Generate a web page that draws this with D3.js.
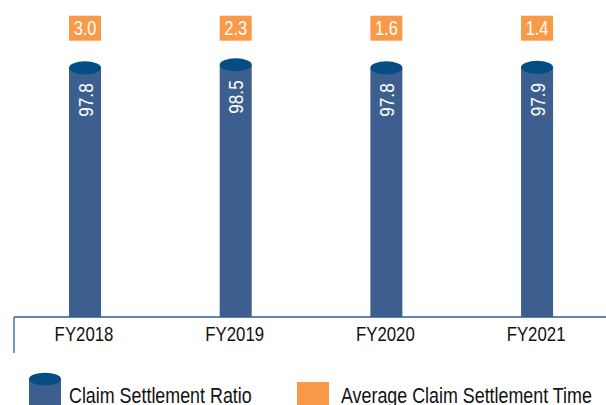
<!DOCTYPE html>
<html>
<head>
<meta charset="utf-8">
<script src="https://cdnjs.cloudflare.com/ajax/libs/d3/7.8.5/d3.min.js"></script>
<style>
  html, body { margin: 0; padding: 0; background: #fff; }
  svg { display: block; }
  text { font-family: "Liberation Sans", Arial, sans-serif; }
</style>
</head>
<body>
<svg id="chart" width="606" height="405"></svg>
<script>
const categories = ["FY2018", "FY2019", "FY2020", "FY2021"];
const ratioValues = [97.8, 98.5, 97.8, 97.9];
const timeValues = [3.0, 2.3, 1.6, 1.4];
const legendLabels = ["Claim Settlement Ratio", "Average Claim Settlement Time"];

const W = 606, H = 405;
const bodyColor = "#3C5F8F";
const topColor = "#054D82";
const orange = "#F99A48";
const axisColor = "#2E5D8C";
const narrow = 0.82; // emulate a condensed face

const svg = d3.select("#chart");

const x = d3.scalePoint().domain(categories).range([9.7, 612.4]).padding(0.5);
const y = d3.scaleLinear().domain([40, 100]).range([317, 58.3]);
const barW = 32, ry = 6.5;
const baseY = y(40);

const data = categories.map((c, i) => ({ cat: c, ratio: ratioValues[i], time: timeValues[i] }));

// bars (cylinders)
const g = svg.append("g");
g.selectAll("rect.body").data(data).enter().append("rect")
  .attr("class", "body")
  .attr("x", d => x(d.cat) - barW / 2)
  .attr("y", d => y(d.ratio))
  .attr("width", barW)
  .attr("height", d => baseY - y(d.ratio))
  .attr("fill", bodyColor);
g.selectAll("ellipse.top").data(data).enter().append("ellipse")
  .attr("class", "top")
  .attr("cx", d => x(d.cat))
  .attr("cy", d => y(d.ratio))
  .attr("rx", barW / 2)
  .attr("ry", ry)
  .attr("fill", topColor);

// rotated value labels
g.selectAll("text.val").data(data).enter().append("text")
  .attr("class", "val")
  .attr("transform", d => `translate(${x(d.cat)},${y(d.ratio) + 15.5}) rotate(-90) scale(${narrow},1)`)
  .attr("text-anchor", "end")
  .attr("dy", "0.36em")
  .attr("fill", "#fff")
  .attr("font-size", 21)
  .text(d => d.ratio.toFixed(1));

// orange time boxes
g.selectAll("rect.time").data(data).enter().append("rect")
  .attr("class", "time")
  .attr("x", d => x(d.cat) - barW / 2)
  .attr("y", 15.7)
  .attr("width", barW)
  .attr("height", 25)
  .attr("fill", orange);
g.selectAll("text.time").data(data).enter().append("text")
  .attr("class", "time")
  .attr("transform", d => `translate(${x(d.cat)},35) scale(${narrow},1)`)
  .attr("text-anchor", "middle")
  .attr("fill", "#fff")
  .attr("font-size", 20)
  .text(d => d.time.toFixed(1));

// axis line
svg.append("line").attr("x1", 14).attr("x2", W).attr("y1", baseY).attr("y2", baseY)
  .attr("stroke", axisColor).attr("stroke-width", 1.6);
svg.append("line").attr("x1", 14).attr("x2", 14).attr("y1", baseY).attr("y2", 353)
  .attr("stroke", axisColor).attr("stroke-width", 1.3);

// category labels
svg.selectAll("text.cat").data(categories).enter().append("text")
  .attr("class", "cat")
  .attr("transform", d => `translate(${x(d) - 1},341) scale(${narrow},1)`)
  .attr("text-anchor", "middle")
  .attr("fill", "#111")
  .attr("font-size", 20.5)
  .text(d => d);

// legend
const lg = svg.append("g");
lg.append("rect").attr("x", 29).attr("y", 379).attr("width", 32).attr("height", 30).attr("fill", bodyColor);
lg.append("ellipse").attr("cx", 45).attr("cy", 379).attr("rx", 16).attr("ry", 6.3).attr("fill", topColor);
lg.append("text").attr("transform", `translate(69,403) scale(${narrow},1)`)
  .attr("font-size", 21.8).attr("fill", "#111").text(legendLabels[0]);
lg.append("rect").attr("x", 297).attr("y", 382).attr("width", 32).attr("height", 25).attr("fill", orange);
lg.append("text").attr("transform", `translate(341,403) scale(${narrow},1)`)
  .attr("font-size", 21.8).attr("fill", "#111").text(legendLabels[1]);
</script>
</body>
</html>
